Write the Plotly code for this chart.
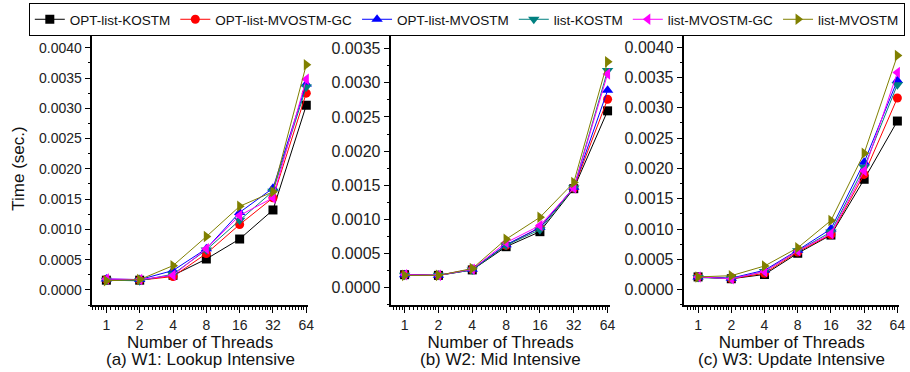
import plotly.graph_objects as go
import numpy as np

threads = [1, 2, 4, 8, 16, 32, 64]
tick_labels = ["1", "2", "4", "8", "16", "32", "64"]
series_names = ["OPT-list-KOSTM", "OPT-list-MVOSTM-GC", "OPT-list-MVOSTM",
                "list-KOSTM", "list-MVOSTM-GC", "list-MVOSTM"]

# W1: Lookup Intensive
w1_opt_kostm     = [0.00016, 0.00016, 0.00024, 0.00051, 0.00084, 0.00132, 0.00305]
w1_opt_mvostm_gc = [0.00017, 0.00016, 0.00022, 0.00060, 0.00108, 0.00152, 0.00325]
w1_opt_mvostm    = [0.00018, 0.00017, 0.00032, 0.00068, 0.00128, 0.00168, 0.00340]
w1_kostm         = [0.00016, 0.00015, 0.00026, 0.00066, 0.00115, 0.00163, 0.00335]
w1_mvostm_gc     = [0.00018, 0.00017, 0.00024, 0.00068, 0.00123, 0.00152, 0.00348]
w1_mvostm        = [0.00015, 0.00017, 0.00040, 0.00088, 0.00138, 0.00162, 0.00372]

# W2: Mid Intensive
w2_opt_kostm     = [0.00019, 0.00018, 0.00026, 0.00060, 0.00082, 0.00145, 0.00259]
w2_opt_mvostm_gc = [0.00019, 0.00018, 0.00027, 0.00062, 0.00088, 0.00146, 0.00276]
w2_opt_mvostm    = [0.00019, 0.00018, 0.00027, 0.00063, 0.00088, 0.00147, 0.00289]
w2_kostm         = [0.00018, 0.00018, 0.00026, 0.00062, 0.00085, 0.00146, 0.00318]
w2_mvostm_gc     = [0.00019, 0.00018, 0.00027, 0.00066, 0.00091, 0.00146, 0.00313]
w2_mvostm        = [0.00018, 0.00018, 0.00028, 0.00071, 0.00103, 0.00154, 0.00331]

# W3: Update Intensive
w3_opt_kostm     = [0.00021, 0.00018, 0.00025, 0.00060, 0.00090, 0.00182, 0.00278]
w3_opt_mvostm_gc = [0.00021, 0.00018, 0.00027, 0.00062, 0.00091, 0.00190, 0.00316]
w3_opt_mvostm    = [0.00021, 0.00019, 0.00032, 0.00065, 0.00100, 0.00210, 0.00345]
w3_kostm         = [0.00020, 0.00018, 0.00030, 0.00064, 0.00095, 0.00202, 0.00338]
w3_mvostm_gc     = [0.00021, 0.00018, 0.00030, 0.00064, 0.00092, 0.00196, 0.00358]
w3_mvostm        = [0.00021, 0.00023, 0.00039, 0.00069, 0.00114, 0.00225, 0.00386]

panels = [
    [w1_opt_kostm, w1_opt_mvostm_gc, w1_opt_mvostm, w1_kostm, w1_mvostm_gc, w1_mvostm],
    [w2_opt_kostm, w2_opt_mvostm_gc, w2_opt_mvostm, w2_kostm, w2_mvostm_gc, w2_mvostm],
    [w3_opt_kostm, w3_opt_mvostm_gc, w3_opt_mvostm, w3_kostm, w3_mvostm_gc, w3_mvostm],
]
captions = ["(a) W1: Lookup Intensive", "(b) W2: Mid Intensive", "(c) W3: Update Intensive"]

colors = ["#000000", "#FF0000", "#0000FF", "#008080", "#FF00FF", "#808000"]
symbols = ["square", "circle", "triangle-up", "triangle-down", "triangle-left", "triangle-right"]

W, H = 910, 372
px_x = [(93, 310), (394, 614), (689, 905)]
idx_range = [(-0.42, 6.05), (-0.39, 6.07), (-0.41, 6.05)]
y_ranges = [(-0.00025, 0.00426), (-0.000254, 0.003745), (-0.000253, 0.004248)]
ytick_font = [14, 16, 16]
top_px, bot_px = 32, 305

# minor tick positions (log2 style)
minor_vals = [0.75, 0.8, 0.85, 0.9, 0.95]
for k in range(6):
    base = 2 ** k
    minor_vals += [base * (1 + 0.1 * i) for i in range(1, 10)]
minor_vals += [64 * (1 + 0.1 * i) for i in range(1, 3)]

fig = go.Figure()
font_family = "Liberation Sans, Arial, sans-serif"

for p in range(3):
    xa = "x" if p == 0 else f"x{p+1}"
    ya = "y" if p == 0 else f"y{p+1}"
    for s in range(6):
        fig.add_trace(go.Scatter(
            x=threads, y=panels[p][s], name=series_names[s],
            mode="lines+markers", xaxis=xa, yaxis=ya,
            line=dict(color=colors[s], width=1),
            marker=dict(symbol=symbols[s], color=colors[s], size=10 if s >= 2 else 9),
            showlegend=(p == 0), cliponaxis=False,
        ))
    l, r = px_x[p]
    lo, hi = idx_range[p]
    xr = [np.log10(2) * lo, np.log10(2) * hi]
    key = "" if p == 0 else str(p + 1)
    fig.layout["xaxis" + key] = dict(
        domain=[l / W, r / W], anchor=ya, type="log", range=xr,
        tickmode="array", tickvals=threads, ticktext=tick_labels,
        ticks="outside", ticklen=6, tickwidth=1.2, tickcolor="#000000",
        minor=dict(tickmode="array", tickvals=minor_vals, ticks="outside",
                   ticklen=3, tickwidth=1, tickcolor="#000000", showgrid=False),
        showline=True, linecolor="black", linewidth=1.5, showgrid=False, zeroline=False,
        tickfont=dict(size=14, color="#222", family=font_family),
        title=dict(text="Number of Threads", font=dict(size=17, color="#111", family=font_family),
                   standoff=4),
    )
    fig.layout["yaxis" + key] = dict(
        domain=[1 - bot_px / H, 1 - top_px / H], anchor=xa, range=list(y_ranges[p]),
        tick0=0, dtick=0.0005, tickformat=".4f",
        ticks="outside", ticklen=6, tickwidth=1, tickcolor="black",
        minor=dict(dtick=0.00025, tick0=0, ticks="outside", ticklen=3, tickwidth=1, tickcolor="black"),
        showline=True, linecolor="black", linewidth=1.5, showgrid=False, zeroline=False,
        tickfont=dict(size=ytick_font[p], color="#222", family=font_family),
    )
    fig.add_annotation(text=captions[p], xref="paper", yref="paper",
                       x=((l + r) / 2) / W, y=1 - 359 / H, xanchor="center", yanchor="middle",
                       showarrow=False, font=dict(size=17, color="#111", family=font_family))

fig.layout.yaxis.title = dict(text="Time (sec.)", font=dict(size=17, color="#111", family=font_family),
                              standoff=10)

fig.update_layout(
    width=W, height=H, margin=dict(l=0, r=0, t=0, b=0),
    paper_bgcolor="white", plot_bgcolor="white",
    font=dict(family=font_family, color="#111"),
    legend=dict(orientation="h", x=29 / W, y=1 - 3 / H, xanchor="left", yanchor="top",
                bordercolor="black", borderwidth=1, bgcolor="white",
                font=dict(size=13.5, family=font_family, color="#111"),
                itemwidth=30, tracegroupgap=0),
    showlegend=True,
)

fig.write_html("out.html")
